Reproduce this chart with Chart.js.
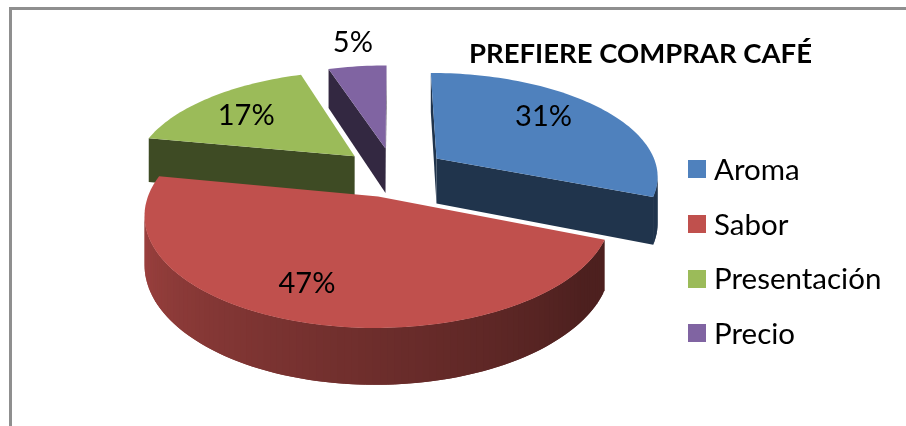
<!DOCTYPE html>
<html lang="es">
<head>
<meta charset="utf-8">
<title>Prefiere comprar café</title>
<script src="https://cdn.jsdelivr.net/npm/chart.js@4/dist/chart.umd.min.js"></script>
<style>
  html, body { margin: 0; padding: 0; background: #fff; }
  #wrap { position: relative; width: 906px; height: 426px; overflow: hidden; }
  #marco { position: absolute; left: 9px; top: 7px; right: -4px; bottom: -4px;
           border-top: 3px solid #8f8f8f; border-left: 3px solid #8f8f8f; }
  canvas { position: absolute; left: 0; top: 0; }
  #leyenda { position: absolute; left: 688px; top: 141px; font: 29.5px Lato, sans-serif; color: #000; }
  .legend-item { display: flex; align-items: center; height: 54.7px; }
  .legend-box { width: 18px; height: 18px; margin-right: 8px; position: relative; top: 1px; }
</style>
</head>
<body>
<div id="wrap">
  <div id="marco"></div>
  <canvas id="pieChart" width="906" height="426"></canvas>
  <div id="leyenda"></div>
</div>
<script>
/* ---- Datos ---- */
const chartTitle = 'PREFIERE COMPRAR CAFÉ';
const categories = ['Aroma', 'Sabor', 'Presentación', 'Precio'];
const percents   = [31, 47, 17, 5];
const sliceColors = ['#4f81bd', '#c0504d', '#9bbb59', '#8064a2'];

/* ---- Vista 3D: plano del pastel con radio 1 ---- */
const view = { cx: 393.5, cy: 172, sx: 222, sy: 102.7, depth: 46, persp: 0.155, explode: 0.239 };

/* Sitio de cada etiqueta dentro de su porción: radio y giro en grados */
const labelSpots = [
  { r: 0.72, turn: -7 },
  { r: 0.74, turn: 5 },
  { r: 0.72, turn: -1 },
  { r: 1.37, turn: 1 },
];

function project(u, v, z = 0) {
  const w = 1 - view.persp * v;
  return { x: view.cx + view.sx * u / w, y: view.cy + (view.sy * v + view.depth * z) / w };
}

function shade(hex, f) {
  const n = parseInt(hex.slice(1), 16);
  return `rgb(${Math.round((n >> 16) * f)},${Math.round(((n >> 8) & 255) * f)},${Math.round((n & 255) * f)})`;
}

function fillPoly(ctx, pts, color) {
  ctx.beginPath();
  pts.forEach((p, i) => i ? ctx.lineTo(p.x, p.y) : ctx.moveTo(p.x, p.y));
  ctx.closePath();
  ctx.fillStyle = color;
  ctx.fill();
}

/* Dibuja una porción: paredes visibles y luego la cara superior */
function drawSlice(ctx, arc, color) {
  const { startAngle, endAngle } = arc.getProps(['startAngle', 'endAngle']);
  const mid = (startAngle + endAngle) / 2;
  const ox = Math.cos(mid) * view.explode;
  const oy = Math.sin(mid) * view.explode;

  const steps = Math.max(4, Math.ceil((endAngle - startAngle) / (Math.PI / 120)));
  const rim = [];
  for (let i = 0; i <= steps; i++) {
    const a = startAngle + (endAngle - startAngle) * i / steps;
    rim.push({ u: ox + Math.cos(a), v: oy + Math.sin(a), a });
  }
  const top = (p) => project(p.u, p.v);
  const low = (p) => project(p.u, p.v, 1);
  const apex = { u: ox, v: oy };

  // Cara lateral solo si el borde va hacia la izquierda en pantalla
  const wall = (p, q, col) => {
    const a = top(p), b = top(q);
    if (b.x < a.x) fillPoly(ctx, [a, b, low(q), low(p)], col);
  };

  wall(apex, rim[0], shade(color, 0.4));
  wall(rim[steps], apex, shade(color, 0.4));
  for (let i = 0; i < steps; i++) {
    // Luz desde la izquierda: más claro cerca de las 9, oscuro hacia la derecha
    const deg = (rim[i].a + Math.PI / 2) * 180 / Math.PI;
    const f = 0.4 + 0.45 * Math.min(1, Math.max(0, (deg - 125) / 145));
    // Cada tramo pisa al siguiente para que no queden rendijas
    wall(rim[i], rim[Math.min(i + 2, steps)], shade(color, f));
  }

  fillPoly(ctx, [top(apex), ...rim.map(top)], color);
}

/* Etiqueta de porcentaje; las porciones pequeñas la llevan por fuera */
function drawLabel(ctx, arc, value, spot) {
  const { startAngle, endAngle } = arc.getProps(['startAngle', 'endAngle']);
  const mid = (startAngle + endAngle) / 2;
  const a = mid + spot.turn * Math.PI / 180;
  const p = project(Math.cos(mid) * view.explode + Math.cos(a) * spot.r,
                    Math.sin(mid) * view.explode + Math.sin(a) * spot.r);
  ctx.fillStyle = '#000';
  ctx.font = '29px Lato, sans-serif';
  ctx.textAlign = 'center';
  ctx.textBaseline = 'middle';
  ctx.fillText(value + '%', p.x, p.y + 2);
}

const pie3d = {
  id: 'pie3d',
  beforeDatasetsDraw(chart) {
    const ctx = chart.ctx;
    const arcs = chart.getDatasetMeta(0).data;
    const depthOf = (arc) => Math.sin((arc.startAngle + arc.endAngle) / 2);
    const order = arcs.map((_, i) => i).sort((a, b) => depthOf(arcs[a]) - depthOf(arcs[b]));
    ctx.save();
    order.forEach(i => drawSlice(ctx, arcs[i], sliceColors[i]));
    arcs.forEach((arc, i) => drawLabel(ctx, arc, percents[i], labelSpots[i]));
    ctx.restore();
    return false;
  },
};

new Chart(document.getElementById('pieChart'), {
  type: 'pie',
  data: {
    labels: categories,
    datasets: [{ data: percents, backgroundColor: sliceColors, borderWidth: 0 }],
  },
  options: {
    responsive: false,
    animation: false,
    events: [],
    layout: { padding: { right: 94 } },
    plugins: {
      legend: { display: false },
      tooltip: { enabled: false },
      title: {
        display: true,
        text: chartTitle,
        align: 'end',
        color: '#000',
        font: { family: 'Lato, sans-serif', size: 27.5, weight: 'bold' },
        padding: { top: 38, bottom: 0 },
      },
    },
  },
  plugins: [pie3d],
});

/* Leyenda personalizada */
document.getElementById('leyenda').innerHTML = categories.map((c, i) => `
  <div class="legend-item">
    <span class="legend-box" style="background:${sliceColors[i]}"></span>
    <span>${c}</span>
  </div>`).join('');
</script>
</body>
</html>
